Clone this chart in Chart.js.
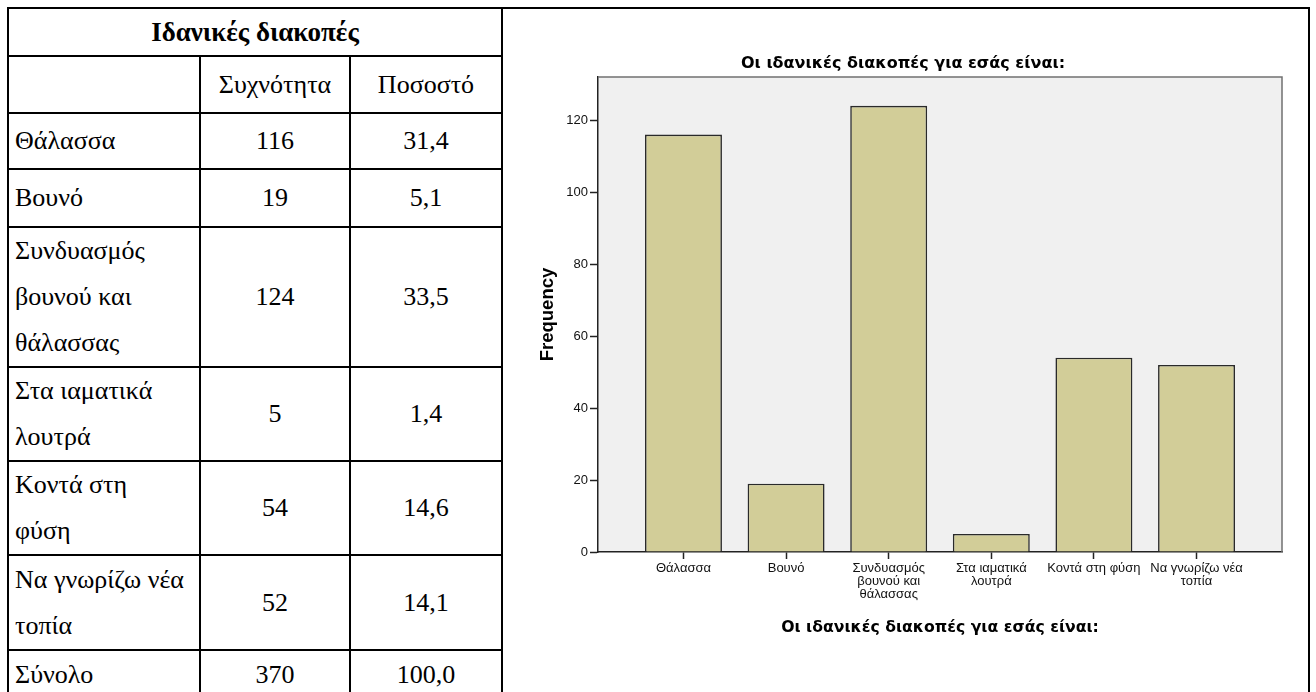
<!DOCTYPE html>
<html>
<head>
<meta charset="utf-8">
<script src="https://cdn.jsdelivr.net/npm/chart.js@4.4.1/dist/chart.umd.min.js"></script>
<style>
  html, body { margin: 0; padding: 0; background: #fff; width: 1316px; height: 692px; overflow: hidden; }
  #tbl { position: absolute; left: 7px; top: 7px; border-collapse: collapse; table-layout: fixed;
         font-family: "Liberation Serif", "Times New Roman", serif; font-size: 26px; color: #000; }
  #tbl td { border: 2px solid #000; padding: 0 6px; vertical-align: middle; line-height: 46px; }
  #tbl td.c { text-align: center; }
  #tbl td.h { font-weight: bold; font-size: 27px; text-align: center; line-height: 30px; }
  #tbl td.chart { padding: 0; }
  #wrap { position: absolute; left: 503px; top: 9px; width: 805px; height: 683px; }
</style>
</head>
<body>
<table id="tbl">
  <colgroup><col style="width:192px"><col style="width:150px"><col style="width:152px"><col style="width:807px"></colgroup>
  <tbody id="rows"></tbody>
</table>
<div id="wrap"><canvas id="myChart"></canvas></div>
<script>
// table data
const tableTitle = 'Ιδανικές διακοπές';
const colHeads = ['Συχνότητα', 'Ποσοστό'];
const categories = ['Θάλασσα', 'Βουνό', 'Συνδυασμός βουνού και θάλασσας', 'Στα ιαματικά λουτρά', 'Κοντά στη φύση', 'Να γνωρίζω νέα τοπία'];
const rowLabels = [['Θάλασσα'], ['Βουνό'], ['Συνδυασμός', 'βουνού και', 'θάλασσας'], ['Στα ιαματικά', 'λουτρά'], ['Κοντά στη', 'φύση'], ['Να γνωρίζω νέα', 'τοπία']];
const frequency = [116, 19, 124, 5, 54, 52];
const percent = ['31,4', '5,1', '33,5', '1,4', '14,6', '14,1'];
const totalLabel = 'Σύνολο';
const totalFreq = '370';
const totalPct = '100,0';

// chart data
const tickLabels = [['Θάλασσα'], ['Βουνό'], ['Συνδυασμός', 'βουνού και', 'θάλασσας'], ['Στα ιαματικά', 'λουτρά'], ['Κοντά στη φύση'], ['Να γνωρίζω νέα', 'τοπία']];
const chartTitle = 'Οι ιδανικές διακοπές για εσάς είναι:';
const yTitle = 'Frequency';

const rowHeights = [48, 57, 56, 58, 140, 93, 93, 95, 50];

// build the table
const rows = document.getElementById('rows');
let html = '';
html += `<tr style="height:${rowHeights[0]}px"><td class="h" colspan="3">${tableTitle}</td><td class="chart" rowspan="9"></td></tr>`;
html += `<tr style="height:${rowHeights[1]}px"><td></td><td class="c">${colHeads[0]}</td><td class="c">${colHeads[1]}</td></tr>`;
rowLabels.forEach((lab, i) => {
  html += `<tr style="height:${rowHeights[i + 2]}px"><td>${lab.join('<br>')}</td><td class="c">${frequency[i]}</td><td class="c">${percent[i]}</td></tr>`;
});
html += `<tr style="height:${rowHeights[8]}px"><td>${totalLabel}</td><td class="c">${totalFreq}</td><td class="c">${totalPct}</td></tr>`;
rows.innerHTML = html;

// plot background and top/right frame
const plotFrame = {
  id: 'plotFrame',
  beforeDraw(chart) {
    const { ctx, chartArea: a } = chart;
    ctx.save();
    ctx.fillStyle = '#f0f0f0';
    ctx.fillRect(a.left, a.top, a.right - a.left, a.bottom - a.top);
    ctx.restore();
  },
  afterDatasetsDraw(chart) {
    const { ctx, chartArea: a } = chart;
    ctx.save();
    ctx.strokeStyle = '#707070';
    ctx.lineWidth = 1.5;
    ctx.beginPath();
    ctx.moveTo(a.left, a.top);
    ctx.lineTo(a.right, a.top);
    ctx.lineTo(a.right, a.bottom);
    ctx.stroke();
    ctx.restore();
  }
};

const config = {
  type: 'bar',
  data: {
    datasets: [{
      label: yTitle,
      data: frequency.map((v, i) => ({ x: i, y: v })),
      backgroundColor: 'rgb(210,205,152)',
      borderColor: '#2a2a2a',
      borderWidth: 1.6,
      borderSkipped: 'start',
      categoryPercentage: 1,
      barPercentage: 0.75
    }]
  },
  plugins: [plotFrame],
  options: {
    responsive: true,
    maintainAspectRatio: false,
    animation: false,
    layout: { padding: { left: 21, right: 26, top: 0, bottom: 0 } },
    plugins: {
      legend: { display: false },
      tooltip: { enabled: false },
      title: {
        display: true,
        text: chartTitle,
        color: '#000',
        font: { family: 'DejaVu Sans', size: 16, weight: 'bold' },
        padding: { top: 44.9, bottom: 3.9 }
      }
    },
    scales: {
      x: {
        type: 'linear',
        min: -0.833,
        max: 5.833,
        bounds: 'data',
        offset: false,
        afterBuildTicks: (scale) => { scale.ticks = categories.map((c, i) => ({ value: i })); },
        afterFit: (scale) => { scale.height = 140; },
        grid: { offset: false, drawOnChartArea: false, drawTicks: true, tickLength: 7, tickColor: '#222', tickWidth: 1.5 },
        border: { display: true, color: '#222', width: 1.5 },
        ticks: {
          autoSkip: false,
          includeBounds: false,
          maxRotation: 0,
          minRotation: 0,
          padding: 3,
          color: '#111',
          font: { family: 'Liberation Sans', size: 13, lineHeight: 1.0 },
          callback: (value) => tickLabels[value]
        },
        title: {
          display: true,
          text: chartTitle,
          color: '#000',
          font: { family: 'DejaVu Sans', size: 15.7, weight: 'bold' },
          padding: { top: 0, bottom: 54.6 }
        }
      },
      y: {
        min: 0,
        max: 132,
        afterFit: (scale) => { scale.width = 74; },
        grid: { drawOnChartArea: false, drawTicks: true, tickLength: 8, tickColor: '#222', tickWidth: 1.5 },
        border: { display: true, color: '#222', width: 1.5 },
        ticks: {
          stepSize: 20,
          includeBounds: false,
          padding: 2,
          color: '#111',
          font: { family: 'Liberation Sans', size: 13 }
        },
        title: {
          display: true,
          text: yTitle,
          color: '#000',
          font: { family: 'Liberation Sans', size: 18.5, weight: 'bold' },
          padding: { top: 12.9, bottom: 0 }
        }
      }
    }
  }
};

new Chart(document.getElementById('myChart'), config);
</script>
</body>
</html>
